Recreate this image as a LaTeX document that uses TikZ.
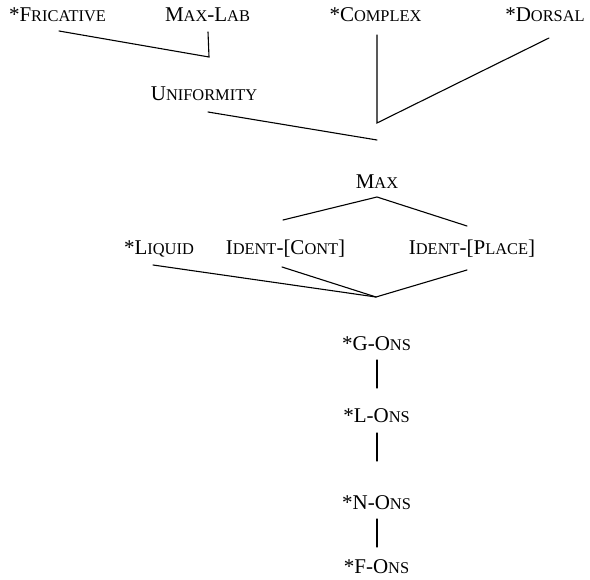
\documentclass[tikz,border=0pt]{standalone}
\usepackage{fontspec}
\setmainfont{Liberation Serif}
\newcommand\SC[1]{{\fontsize{16.4pt}{17pt}\selectfont #1}}
\tikzset{
  lbl/.style={anchor=base, inner sep=0pt, font=\fontsize{21pt}{23pt}\selectfont},
  edge/.style={line width=1.1pt, line cap=round, line join=miter}
}
\begin{document}
\begin{tikzpicture}[x=1pt, y=-1pt]
\useasboundingbox (0,0) rectangle (590,580);
% labels
\node[lbl] (fric) at (57.5,21.5) {*F\SC{RICATIVE}};
\node[lbl] (maxlab) at (207.5,21.5) {M\SC{AX}-L\SC{AB}};
\node[lbl] (complex) at (375.5,21.5) {*C\SC{OMPLEX}};
\node[lbl] (dorsal) at (545,21.5) {*D\SC{ORSAL}};
\node[lbl] (unif) at (204,101) {U\SC{NIFORMITY}};
\node[lbl] (max) at (377,189) {M\SC{AX}};
\node[lbl] (liquid) at (159,255) {*L\SC{IQUID}};
\node[lbl] (icont) at (285.5,255) {I\SC{DENT}-[C\SC{ONT}]};
\node[lbl] (iplace) at (472,255) {I\SC{DENT}-[P\SC{LACE}]};
\node[lbl] (gons) at (376.5,351) {*G-O\SC{NS}};
\node[lbl] (lons) at (376.5,423) {*L-O\SC{NS}};
\node[lbl] (nons) at (376.5,510) {*N-O\SC{NS}};
\node[lbl] (fons) at (376.5,573) {*F-O\SC{NS}};
% connector end points
\coordinate (fr1) at (59,31);
\coordinate (ml1) at (208,32);
\coordinate (ml2) at (209,57);
\coordinate (cx1) at (377,35);
\coordinate (do1) at (549,38);
\coordinate (cd) at (377,123);
\coordinate (un1) at (208,112);
\coordinate (un2) at (377,140);
\coordinate (mx) at (377,197);
\coordinate (ic1) at (283,220);
\coordinate (ip1) at (467,226);
\coordinate (lq) at (153,265);
\coordinate (ic2) at (282,267);
\coordinate (ip2) at (467,270);
\coordinate (cv) at (376,297);
\coordinate (g1) at (377,360);
\coordinate (l0) at (377,388);
\coordinate (l1) at (377,433);
\coordinate (n0) at (377,461);
\coordinate (n1) at (377,519);
\coordinate (f0) at (377,547);
% connectors
\draw[edge] (fr1) -- (ml2) -- (ml1);
\draw[edge] (cx1) -- (cd) -- (do1);
\draw[edge] (un1) -- (un2);
\draw[edge] (ic1) -- (mx) -- (ip1);
\draw[edge] (lq) -- (cv);
\draw[edge] (ic2) -- (cv);
\draw[edge] (ip2) -- (cv);
\draw[edge] (g1) -- (l0);
\draw[edge] (l1) -- (n0);
\draw[edge] (n1) -- (f0);
\end{tikzpicture}
\end{document}
